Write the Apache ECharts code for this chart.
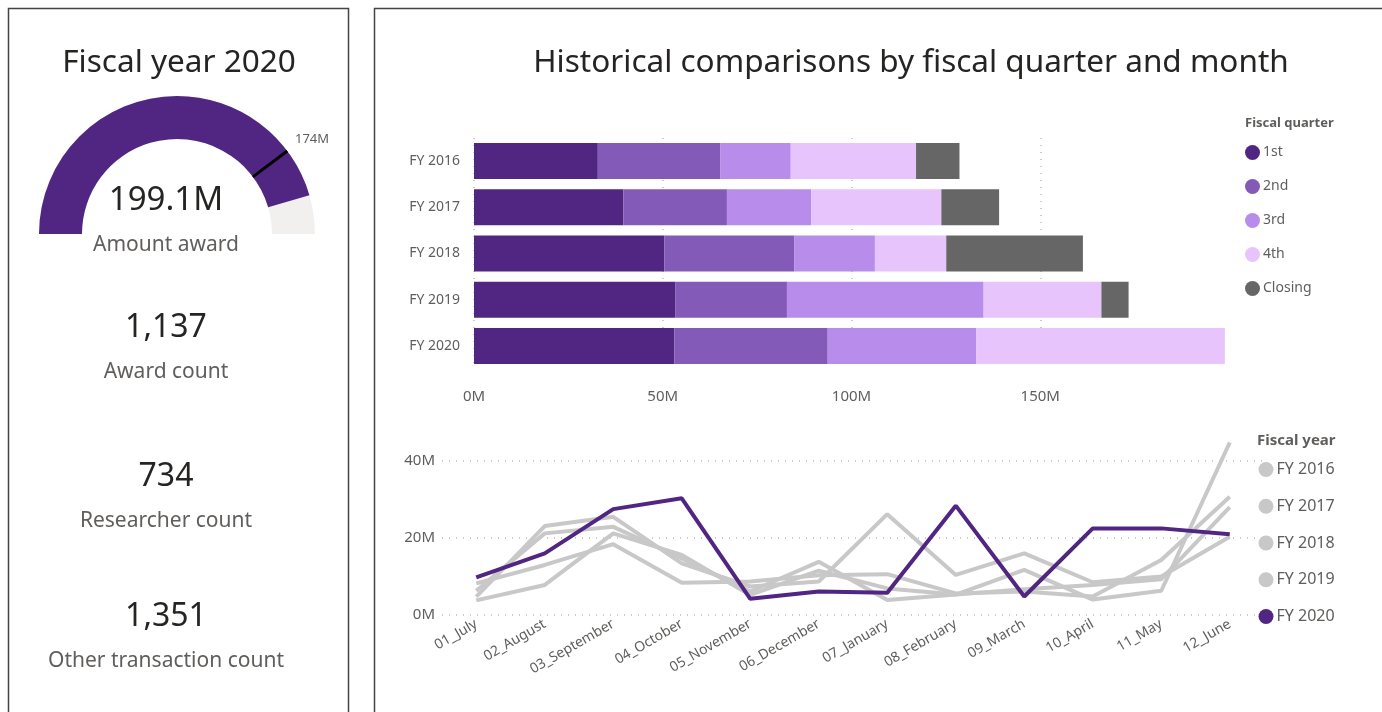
<!DOCTYPE html>
<html>
<head>
<meta charset="utf-8">
<title>Fiscal year 2020</title>
<script src="https://cdn.jsdelivr.net/npm/echarts@6/dist/echarts.min.js"></script>
<style>
  html, body { margin: 0; padding: 0; background: #fff; }
  #main { width: 1382px; height: 712px; }
</style>
</head>
<body>
<div id="main"></div>
<script>
  // 左侧 KPI
  var amountAward = 199.1;
  var amountTarget = 174;
  var gaugeMax = 219;
  var kpiValues = ['1,137', '734', '1,351'];
  var kpiLabels = ['Award count', 'Researcher count', 'Other transaction count'];

  // 堆叠条形图（季度）
  var fyLabels = ['FY 2016', 'FY 2017', 'FY 2018', 'FY 2019', 'FY 2020'];
  var quarterNames = ['1st', '2nd', '3rd', '4th', 'Closing'];
  var q1 = [32.8, 39.6, 50.4, 53.4, 53.1];
  var q2 = [32.5, 27.4, 34.5, 29.5, 40.6];
  var q3 = [18.6, 22.3, 21.3, 52.1, 39.3];
  var q4 = [33.2, 34.5, 18.9, 31.2, 65.9];
  var closing = [11.5, 15.3, 36.2, 7.2, 0];
  var quarterColors = ['#512683', '#845AB8', '#B78CEB', '#E8C4FD', '#666666'];

  // 折线图（月份）
  var months = ['01_July', '02_August', '03_September', '04_October', '05_November', '06_December',
    '07_January', '08_February', '09_March', '10_April', '11_May', '12_June'];
  var fy2016 = [3.8, 7.8, 21.2, 15.6, 5.2, 11.5, 6.9, 5.3, 6.7, 7.8, 9.3, 28.0];
  var fy2017 = [8.2, 13.0, 18.4, 8.4, 8.7, 10.3, 10.6, 5.6, 6.1, 4.8, 14.3, 30.7];
  var fy2018 = [6.3, 21.2, 22.9, 14.7, 6.1, 13.8, 3.9, 5.3, 11.7, 4.0, 6.3, 44.8];
  var fy2019 = [4.8, 23.1, 25.5, 13.4, 7.4, 8.7, 26.2, 10.4, 16.0, 8.5, 10.0, 20.3];
  var fy2020 = [9.8, 16.0, 27.5, 30.3, 4.2, 6.1, 5.8, 28.4, 4.8, 22.5, 22.5, 21.0];

  var FONT = "'Noto Sans', 'Open Sans', sans-serif";
  var DARK = '#252423';
  var GRAY = '#605E5C';
  var LINEGRAY = '#C8C8C8';

  var chart = echarts.init(document.getElementById('main'));

  var graphics = [
    { type: 'rect', shape: { x: 8.5, y: 8.5, width: 340, height: 720 }, style: { fill: 'none', stroke: '#444', lineWidth: 1.5 } },
    { type: 'rect', shape: { x: 374.5, y: 8.5, width: 1020, height: 720 }, style: { fill: 'none', stroke: '#444', lineWidth: 1.5 } },
    { type: 'text', x: 179, y: 63, style: { text: 'Fiscal year 2020', fontSize: 31.5, fontFamily: FONT, fill: DARK, textAlign: 'center', textVerticalAlign: 'middle' } },
    { type: 'text', x: 911, y: 63, style: { text: 'Historical comparisons by fiscal quarter and month', fontSize: 31.5, fontFamily: FONT, fill: DARK, textAlign: 'center', textVerticalAlign: 'middle' } },
    { type: 'text', x: 1245, y: 123, style: { text: 'Fiscal quarter', fontSize: 13, fontWeight: 'bold', fontFamily: FONT, fill: GRAY, textVerticalAlign: 'middle' } },
    { type: 'text', x: 1257, y: 441, style: { text: 'Fiscal year', fontSize: 15, fontWeight: 'bold', fontFamily: FONT, fill: GRAY, textVerticalAlign: 'middle' } }
  ];
  var kpiY = [328, 477, 617];
  for (var i = 0; i < kpiValues.length; i++) {
    graphics.push({ type: 'text', x: 166, y: kpiY[i], style: { text: kpiValues[i], fontSize: 32, fontFamily: FONT, fill: DARK, textAlign: 'center', textVerticalAlign: 'middle' } });
    graphics.push({ type: 'text', x: 166, y: kpiY[i] + 44, style: { text: kpiLabels[i], fontSize: 21, fontFamily: FONT, fill: GRAY, textAlign: 'center', textVerticalAlign: 'middle' } });
  }

  function barSeries(name, data, idx) {
    return {
      name: name, type: 'bar', stack: 'fy', xAxisIndex: 0, yAxisIndex: 0,
      barWidth: 36, itemStyle: { color: quarterColors[idx] }, data: data
    };
  }
  function lineSeries(name, data, color, z) {
    return {
      name: name, type: 'line', xAxisIndex: 1, yAxisIndex: 1, symbol: 'none', z: z,
      lineStyle: { width: 4, color: color }, itemStyle: { color: color }, data: data
    };
  }

  var option = {
    animation: false,
    textStyle: { fontFamily: FONT },
    graphic: graphics,
    legend: [
      {
        data: quarterNames, orient: 'vertical', left: 1245, top: 145, padding: 0,
        icon: 'circle', itemWidth: 15, itemHeight: 15, itemGap: 19,
        textStyle: { fontSize: 14, color: GRAY, padding: [0, 0, 0, -2] }
      },
      {
        data: ['FY 2016', 'FY 2017', 'FY 2018', 'FY 2019', 'FY 2020'], orient: 'vertical', left: 1258.5, top: 461.5, padding: 0,
        icon: 'circle', itemWidth: 15, itemHeight: 15, itemGap: 20.75,
        textStyle: { fontSize: 16, color: GRAY, padding: [0, 0, 0, -2] }
      }
    ],
    grid: [
      { left: 474, top: 138, width: 755, height: 231 },
      { left: 442, top: 422.5, width: 822, height: 192.5 }
    ],
    xAxis: [
      {
        type: 'value', gridIndex: 0, min: 0, max: 200, interval: 50,
        axisLine: { show: false }, axisTick: { show: false },
        axisLabel: { formatter: '{value}M', color: GRAY, fontSize: 15, margin: 20, showMaxLabel: false },
        splitLine: { show: true, showMaxLine: false, lineStyle: { type: [1, 6], color: '#bbb', width: 1.5 } }
      },
      {
        type: 'category', gridIndex: 1, data: months, boundaryGap: true,
        axisLine: { show: false }, axisTick: { show: false },
        axisLabel: { color: GRAY, fontSize: 14, rotate: 30, margin: 8, interval: 0 }
      }
    ],
    yAxis: [
      {
        type: 'category', gridIndex: 0, data: fyLabels, inverse: true,
        axisLine: { show: false }, axisTick: { show: false },
        axisLabel: { color: GRAY, fontSize: 14, margin: 14 }
      },
      {
        type: 'value', gridIndex: 1, min: 0, max: 50, interval: 20,
        axisLine: { show: false }, axisTick: { show: false },
        axisLabel: { formatter: '{value}M', color: GRAY, fontSize: 15, margin: 7, showMaxLabel: false },
        splitLine: { show: true, showMaxLine: false, lineStyle: { type: [1, 6], color: '#bbb', width: 1.5 } }
      }
    ],
    series: [
      {
        type: 'gauge', center: [177, 234], radius: 138, startAngle: 180, endAngle: 0,
        min: 0, max: gaugeMax, z: 2,
        axisLine: { lineStyle: { width: 43, color: [[1, '#F1F0EF']] } },
        progress: { show: true, width: 43, itemStyle: { color: '#512683' } },
        pointer: { show: false }, anchor: { show: false },
        axisTick: { show: false }, splitLine: { show: false }, axisLabel: { show: false },
        title: { offsetCenter: [-11, 11], fontSize: 21, color: GRAY, fontFamily: FONT },
        detail: { offsetCenter: [-11, -33], fontSize: 33, fontWeight: 'normal', color: DARK, fontFamily: FONT, formatter: '{value}M' },
        data: [{ value: amountAward, name: 'Amount award' }]
      },
      {
        type: 'gauge', center: [177, 234], radius: 138, startAngle: 180, endAngle: 0,
        min: 0, max: gaugeMax, z: 10,
        axisLine: { show: false }, progress: { show: false },
        pointer: { show: true, icon: 'rect', length: 43, width: 3, offsetCenter: [0, -95], itemStyle: { color: '#000000' } },
        anchor: { show: false },
        axisTick: { show: false }, splitLine: { show: false }, axisLabel: { show: false },
        title: { show: false },
        detail: { offsetCenter: [135, -95], fontSize: 13, fontWeight: 'normal', color: GRAY, fontFamily: FONT, formatter: '{value}M' },
        data: [{ value: amountTarget }]
      },
      barSeries(quarterNames[0], q1, 0),
      barSeries(quarterNames[1], q2, 1),
      barSeries(quarterNames[2], q3, 2),
      barSeries(quarterNames[3], q4, 3),
      barSeries(quarterNames[4], closing, 4),
      lineSeries('FY 2016', fy2016, LINEGRAY, 2),
      lineSeries('FY 2017', fy2017, LINEGRAY, 2),
      lineSeries('FY 2018', fy2018, LINEGRAY, 2),
      lineSeries('FY 2019', fy2019, LINEGRAY, 2),
      lineSeries('FY 2020', fy2020, '#512683', 3)
    ]
  };
  chart.setOption(option);
</script>
</body>
</html>
